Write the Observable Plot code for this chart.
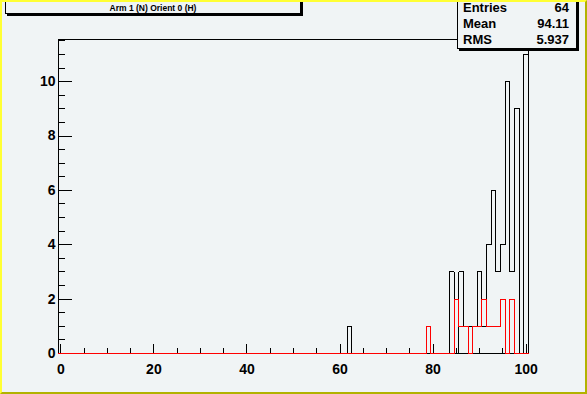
<!DOCTYPE html>
<html><head><meta charset="utf-8">
<script src="https://cdn.jsdelivr.net/npm/d3@7"></script>
<script src="https://cdn.jsdelivr.net/npm/@observablehq/plot@0.6"></script>
<style>
html,body{margin:0;padding:0;background:#f0f4f5;}
#wrap{position:relative;width:587px;height:394px;overflow:hidden;background:#f0f4f5;font-family:"Liberation Sans",Arial,Helvetica,sans-serif;}
#wrap svg{position:absolute;left:0;top:0;}
.border{position:absolute;left:0;top:0;width:587px;height:394px;box-sizing:border-box;border-style:solid;border-width:2px;border-color:#ffff33 #b2b200 #b2b200 #ffff33;pointer-events:none;}
.title{position:absolute;left:5px;top:-1px;width:294px;height:13px;border:1px solid #000;background:#f0f4f5;box-shadow:2px 2px 0 #000;font-size:8.5px;font-weight:bold;text-align:center;line-height:13px;box-sizing:content-box;}
.title span{position:relative;top:2px;}
.stats{position:absolute;left:457px;top:-1px;width:118px;height:48px;border:1px solid #000;background:#f0f4f5;box-shadow:2px 2px 0 #000;font-size:13px;font-weight:bold;}
.row{position:absolute;left:5px;right:7px;height:15.8px;line-height:15.8px;}
.row .k{position:absolute;left:0;}
.row .v{position:absolute;right:0;}
</style>
</head><body>
<div id="wrap"></div>
<script>
// histogram title and statistics
const titleText = "Arm 1 (N) Orient 0 (H)";
const statsLabels = ["Entries", "Mean", "RMS"];
const statsValues = ["64", "94.11", "5.937"];

// black histogram: non-empty bins (bin centre) and their counts
const blackBins   = [62, 84, 86, 87, 88, 89, 90, 91, 92, 93, 94, 95, 96, 97, 98, 100];
const blackCounts = [ 1,  3,  3,  1,  1,  1,  3,  1,  4,  6,  3,  4, 10,  3,  9,  11];
// red histogram: non-empty bins and counts
const redBins   = [79, 85, 86, 87, 89, 90, 91, 92, 93, 94, 95, 97];
const redCounts = [ 1,  2,  1,  1,  1,  1,  2,  1,  1,  1,  2,  2];

const nBins = 101;            // bins centred on 0..100
const xDomain = [-0.5, 100.5];
const yDomain = [0, 11.55];

const xMajor = [0, 20, 40, 60, 80, 100];
const xMinor = [5, 10, 15, 25, 30, 35, 45, 50, 55, 65, 70, 75, 85, 90, 95];
const yMajor = [0, 2, 4, 6, 8, 10];
const yMinor = [0.5, 1, 1.5, 2.5, 3, 3.5, 4.5, 5, 5.5, 6.5, 7, 7.5, 8.5, 9, 9.5, 10.5, 11, 11.5];

function steps(bins, counts) {
  const full = new Array(nBins).fill(0);
  bins.forEach((b, i) => { full[b] = counts[i]; });
  const pts = [{x: xDomain[0], y: 0}];
  full.forEach((c, i) => pts.push({x: i - 0.5, y: c}));
  pts.push({x: xDomain[1], y: full[nBins - 1]});
  pts.push({x: xDomain[1], y: 0});
  return pts;
}

const font = {fontSize: 14, fontWeight: "bold"};
const crisp = {shapeRendering: "crispEdges"};
const chart = Plot.plot({
  width: 587, height: 394,
  marginLeft: 58, marginRight: 59, marginTop: 39, marginBottom: 41,
  style: {background: "transparent", fontFamily: "Liberation Sans, Arial, sans-serif"},
  x: {domain: xDomain},
  y: {domain: yDomain},
  marks: [
    // frame drawn as rules so that the histograms are painted over it
    Plot.ruleY([yDomain[0], yDomain[1]], {stroke: "black", ...crisp}),
    Plot.ruleX([xDomain[0], xDomain[1]], {stroke: "black", ...crisp}),
    Plot.axisY(yMajor, {tickSize: 0, tickPadding: 3, label: null, ...font, tickFormat: d => String(d)}),
    Plot.axisY(yMajor, {tickSize: -14, fill: "none", stroke: "black", label: null, ...crisp}),
    Plot.axisY(yMinor, {tickSize: -7, fill: "none", stroke: "black", label: null, ...crisp}),
    Plot.axisX(xMajor, {tickSize: 0, tickPadding: 11, label: null, ...font, tickFormat: d => String(d)}),
    Plot.axisX(xMajor, {tickSize: -9, fill: "none", stroke: "black", label: null, ...crisp}),
    Plot.axisX(xMinor, {tickSize: -4.7, fill: "none", stroke: "black", label: null, ...crisp}),
    Plot.line(steps(blackBins, blackCounts), {x: "x", y: "y", curve: "step-after", stroke: "black", strokeWidth: 1, ...crisp}),
    Plot.line(steps(redBins, redCounts), {x: "x", y: "y", curve: "step-after", stroke: "#ff0000", strokeWidth: 1, ...crisp})
  ]
});
const wrap = document.getElementById("wrap");
wrap.appendChild(chart);

const t = document.createElement("div");
t.className = "title";
t.innerHTML = "<span></span>";
t.firstChild.textContent = titleText;
wrap.appendChild(t);

const s = document.createElement("div");
s.className = "stats";
statsLabels.forEach((lab, i) => {
  const r = document.createElement("div");
  r.className = "row";
  r.style.top = (i * 15.8) + "px";
  const k = document.createElement("span"); k.className = "k"; k.textContent = lab;
  const v = document.createElement("span"); v.className = "v"; v.textContent = statsValues[i];
  r.appendChild(k); r.appendChild(v);
  s.appendChild(r);
});
wrap.appendChild(s);

const b = document.createElement("div");
b.className = "border";
wrap.appendChild(b);
</script>
</body></html>
